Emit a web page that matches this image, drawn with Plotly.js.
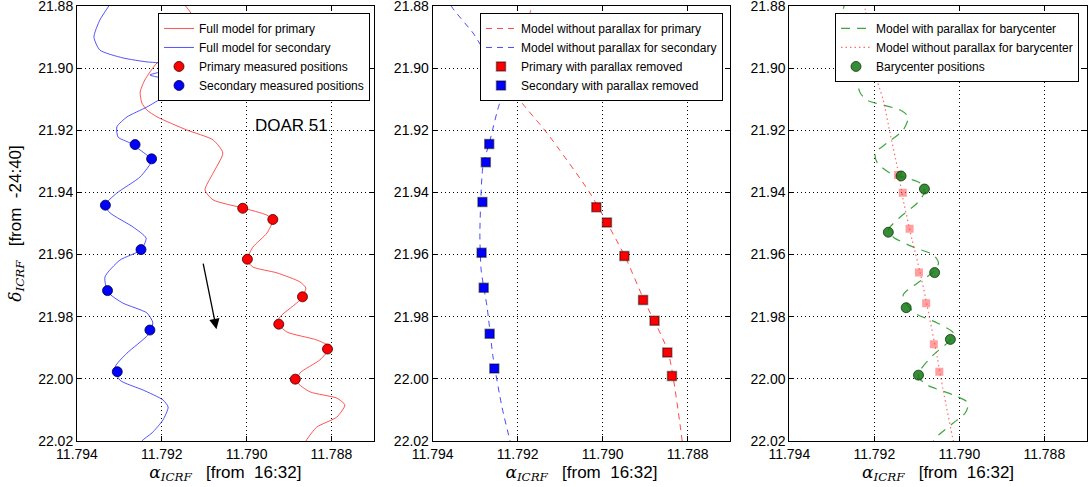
<!DOCTYPE html>
<html><head><meta charset="utf-8">
<script src="https://cdn.plot.ly/plotly-3.0.1.min.js"></script>
<style>html,body{margin:0;padding:0;background:#fff}#chart{width:1090px;height:487px}</style>
</head><body><div id="chart"></div>
<script>
// ---------- Panel 1: full model and measured positions ----------
const p1PrimaryModelRA = [11.79157, 11.79133, 11.79119, 11.79129, 11.79169, 11.79211, 11.7924, 11.79251, 11.79247, 11.79235, 11.79211, 11.79141, 11.79079, 11.79056, 11.79079, 11.79098, 11.79079, 11.79009, 11.78952, 11.78938, 11.78952, 11.78985, 11.78999, 11.78985, 11.78928, 11.78874, 11.7886, 11.78874, 11.78917, 11.78928, 11.78905, 11.78834, 11.78803, 11.78827, 11.78874, 11.78881, 11.7885, 11.78787, 11.78768, 11.78787, 11.78834, 11.7886, 11.78869];
const p1PrimaryModelDec = [21.878, 21.8819, 21.8861, 21.8909, 21.8948, 21.8983, 21.9038, 21.9077, 21.9112, 21.9135, 21.9157, 21.9199, 21.9231, 21.9273, 21.9338, 21.9392, 21.9424, 21.945, 21.9473, 21.9489, 21.9531, 21.9576, 21.9618, 21.964, 21.9659, 21.9688, 21.9708, 21.9746, 21.9795, 21.9817, 21.9849, 21.9875, 21.9898, 21.9939, 21.9981, 22.001, 22.0042, 22.0062, 22.0084, 22.0123, 22.0155, 22.02, 22.0229];
const p1SecondaryModelRA = [11.79315, 11.79346, 11.7936, 11.79346, 11.79292, 11.79235, 11.79209, 11.79181, 11.79204, 11.79228, 11.79209, 11.79169, 11.79162, 11.79176, 11.79197, 11.79235, 11.79282, 11.79306, 11.79303, 11.79275, 11.79235, 11.79223, 11.79251, 11.79306, 11.79334, 11.79322, 11.79268, 11.79237, 11.79249, 11.79299, 11.79334, 11.79327, 11.79292, 11.79235, 11.79221, 11.79233, 11.79282, 11.7931, 11.79299, 11.79244, 11.79197, 11.79185, 11.79197, 11.79223, 11.79247, 11.79256];
const p1SecondaryModelDec = [21.878, 21.8845, 21.89, 21.8942, 21.8967, 21.898, 21.8983, 21.8996, 21.9012, 21.9022, 21.9029, 21.9038, 21.9048, 21.9061, 21.9093, 21.9125, 21.9157, 21.9189, 21.9222, 21.9241, 21.928, 21.9296, 21.935, 21.9402, 21.9441, 21.9466, 21.9511, 21.9547, 21.9585, 21.9618, 21.9672, 21.9721, 21.9756, 21.9788, 21.982, 21.9859, 21.9917, 21.9962, 22.0004, 22.0036, 22.0068, 22.0091, 22.0132, 22.0174, 22.02, 22.0229];
const p1PrimaryRA = [11.79009, 11.78938, 11.78998, 11.78868, 11.78924, 11.78809, 11.78885];
const p1PrimaryDec = [21.9451, 21.9487, 21.9615, 21.9736, 21.9824, 21.9904, 22.0001];
const p1SecondaryRA = [11.79263, 11.79224, 11.79333, 11.79249, 11.79328, 11.79228, 11.79305];
const p1SecondaryDec = [21.9246, 21.9292, 21.9441, 21.9584, 21.9716, 21.9843, 21.9977];
const arrowTail = [11.79103, 21.9624];
const arrowHead = [11.79071, 21.984];
const labelPos = [11.78894, 21.9183];

// ---------- Panel 2: parallax removed ----------
const p2PrimaryModelRA = [11.79162, 11.79169, 11.79185, 11.79204, 11.79216, 11.79213, 11.79195, 11.79131, 11.7903, 11.78948, 11.78903, 11.78846, 11.78813, 11.78811];
const p2PrimaryModelDec = [21.878, 21.8813, 21.8877, 21.8958, 21.9022, 21.9061, 21.9103, 21.9209, 21.9402, 21.9605, 21.9746, 21.9914, 22.02, 22.0229];
const p2SecondaryModelRA = [11.79366, 11.79355, 11.79305, 11.79277, 11.79249, 11.79225, 11.79218, 11.79242, 11.79265, 11.79282, 11.79289, 11.79286, 11.79272, 11.79258, 11.79237, 11.79218, 11.79213];
const p2SecondaryModelDec = [21.8765, 21.8803, 21.8887, 21.8948, 21.90, 21.9038, 21.9057, 21.9112, 21.9231, 21.9318, 21.9531, 21.965, 21.9769, 21.993, 22.0091, 22.02, 22.0229];
const p2PrimaryRA = [11.79015, 11.7899, 11.78949, 11.78905, 11.78878, 11.78848, 11.78837];
const p2PrimaryDec = [21.9448, 21.9497, 21.9605, 21.9746, 21.9813, 21.9915, 21.9991];
const p2SecondaryRA = [11.79267, 11.79275, 11.79283, 11.79285, 11.7928, 11.79266, 11.79255];
const p2SecondaryDec = [21.9244, 21.9303, 21.9431, 21.9594, 21.9707, 21.9855, 21.9967];

// ---------- Panel 3: barycenter ----------
const p3BaryModelRA = [11.79266, 11.79273, 11.79266, 11.79238, 11.79196, 11.79186, 11.79196, 11.79205, 11.79226, 11.79238, 11.79233, 11.79217, 11.79139, 11.7912, 11.79132, 11.7917, 11.79198, 11.79193, 11.79163, 11.79134, 11.79092, 11.79082, 11.79099, 11.79139, 11.79167, 11.79155, 11.79108, 11.79061, 11.79049, 11.79061, 11.79099, 11.79132, 11.79108, 11.79052, 11.79014, 11.79021, 11.79061, 11.79092, 11.79096, 11.79075, 11.79014, 11.78979, 11.78986, 11.79014, 11.79049, 11.79061, 11.79071];
const p3BaryModelDec = [21.878, 21.8813, 21.8839, 21.8877, 21.8926, 21.8948, 21.898, 21.9006, 21.9029, 21.9054, 21.908, 21.9103, 21.9135, 21.9157, 21.9199, 21.9241, 21.9273, 21.9305, 21.9338, 21.935, 21.937, 21.9399, 21.9434, 21.9479, 21.9521, 21.9544, 21.9576, 21.9601, 21.9627, 21.9656, 21.9692, 21.973, 21.9785, 21.982, 21.9852, 21.9875, 21.9923, 21.9972, 21.9994, 22.002, 22.0052, 22.0078, 22.011, 22.0142, 22.0181, 22.02, 22.0229];
const p3BaryNoPlxRA = [11.79229, 11.79221, 11.79203, 11.79179, 11.79163, 11.79146, 11.79132, 11.79111, 11.79092, 11.79075, 11.79052, 11.79038, 11.79014, 11.79009];
const p3BaryNoPlxDec = [21.8765, 21.8813, 21.8996, 21.9103, 21.9209, 21.9318, 21.9424, 21.9553, 21.9659, 21.9769, 21.993, 22.0036, 22.02, 22.0229];
const p3BaryNoPlxPtsRA = [11.79144, 11.79133, 11.79117, 11.79095, 11.79078, 11.7906, 11.79047];
const p3BaryNoPlxPtsDec = [21.9344, 21.9401, 21.9517, 21.9658, 21.9757, 21.9889, 21.9977];
const p3BaryRA = [11.79137, 11.79082, 11.79167, 11.79058, 11.79125, 11.79021, 11.79096];
const p3BaryDec = [21.9347, 21.9389, 21.9528, 21.9658, 21.9771, 21.9873, 21.9988];

const xTickVals = [11.794, 11.792, 11.790, 11.788];
const xTickText = ['11.794', '11.792', '11.790', '11.788'];
const yTickVals = [21.88, 21.90, 21.92, 21.94, 21.96, 21.98, 22.00, 22.02];
const yTickText = ['21.88', '21.90', '21.92', '21.94', '21.96', '21.98', '22.00', '22.02'];

const FONT = 'Liberation Sans, Arial, Helvetica, sans-serif';
const traces = [
  {x: p1PrimaryModelRA, y: p1PrimaryModelDec, xaxis: 'x', yaxis: 'y', mode: 'lines', name: 'Full model for primary', legend: 'legend',
   line: {color: 'rgba(255,40,40,0.8)', width: 1, shape: 'spline', smoothing: 0.6}},
  {x: p1SecondaryModelRA, y: p1SecondaryModelDec, xaxis: 'x', yaxis: 'y', mode: 'lines', name: 'Full model for secondary', legend: 'legend',
   line: {color: 'rgba(40,40,255,0.8)', width: 1, shape: 'spline', smoothing: 0.6}},
  {x: p1PrimaryRA, y: p1PrimaryDec, xaxis: 'x', yaxis: 'y', mode: 'markers', name: 'Primary measured positions', legend: 'legend',
   marker: {symbol: 'circle', size: 10, color: '#ff0000', line: {color: 'rgba(60,0,0,0.8)', width: 1}}},
  {x: p1SecondaryRA, y: p1SecondaryDec, xaxis: 'x', yaxis: 'y', mode: 'markers', name: 'Secondary measured positions', legend: 'legend',
   marker: {symbol: 'circle', size: 10, color: '#0000ff', line: {color: 'rgba(0,0,60,0.8)', width: 1}}},

  {x: p2PrimaryModelRA, y: p2PrimaryModelDec, xaxis: 'x2', yaxis: 'y2', mode: 'lines', name: 'Model without parallax for primary', legend: 'legend2',
   line: {color: 'rgba(255,40,40,0.85)', width: 1, dash: '6px,5px', shape: 'spline', smoothing: 0.6}},
  {x: p2SecondaryModelRA, y: p2SecondaryModelDec, xaxis: 'x2', yaxis: 'y2', mode: 'lines', name: 'Model without parallax for secondary', legend: 'legend2',
   line: {color: 'rgba(40,40,255,0.85)', width: 1, dash: '6px,5px', shape: 'spline', smoothing: 0.6}},
  {x: p2PrimaryRA, y: p2PrimaryDec, xaxis: 'x2', yaxis: 'y2', mode: 'markers', name: 'Primary with parallax removed', legend: 'legend2',
   marker: {symbol: 'square', size: 9, color: '#ff0000', line: {color: 'rgba(0,0,0,0.45)', width: 1.5}}},
  {x: p2SecondaryRA, y: p2SecondaryDec, xaxis: 'x2', yaxis: 'y2', mode: 'markers', name: 'Secondary with parallax removed', legend: 'legend2',
   marker: {symbol: 'square', size: 9, color: '#0000ff', line: {color: 'rgba(0,0,0,0.45)', width: 1.5}}},

  {x: p3BaryModelRA, y: p3BaryModelDec, xaxis: 'x3', yaxis: 'y3', mode: 'lines', name: 'Model with parallax for barycenter', legend: 'legend3',
   line: {color: 'rgba(30,150,30,0.85)', width: 1.2, dash: '9px,7px', shape: 'spline', smoothing: 0.7}},
  {x: p3BaryNoPlxRA, y: p3BaryNoPlxDec, xaxis: 'x3', yaxis: 'y3', mode: 'lines', name: 'Model without parallax for barycenter', legend: 'legend3',
   line: {color: 'rgba(255,60,60,0.75)', width: 1.2, dash: '1.5px,3px', shape: 'spline', smoothing: 0.7}},
  {x: p3BaryNoPlxPtsRA, y: p3BaryNoPlxPtsDec, xaxis: 'x3', yaxis: 'y3', mode: 'markers', showlegend: false, name: 'no plx',
   marker: {symbol: 'square', size: 8, color: 'rgba(255,80,80,0.55)', line: {width: 0}}},
  {x: p3BaryRA, y: p3BaryDec, xaxis: 'x3', yaxis: 'y3', mode: 'markers', name: 'Barycenter positions', legend: 'legend3',
   marker: {symbol: 'circle', size: 10, color: 'rgba(20,120,20,0.85)', line: {color: 'rgba(0,40,0,0.7)', width: 1}}}
];

function xAxis(dom, anchor) {
  return {domain: dom, anchor: anchor, range: [11.794000001, 11.787], tickvals: xTickVals, ticktext: xTickText,
    showline: true, linecolor: 'black', linewidth: 1, mirror: 'ticks', ticks: 'inside', ticklen: 5, tickcolor: 'black',
    showgrid: true, gridcolor: 'black', gridwidth: 1, griddash: '1px,3px', zeroline: false, ticklabeloverflow: 'allow',
    tickfont: {family: FONT, size: 14, color: 'black'},
    title: {text: '<span style="font-family:DejaVu Serif;font-style:italic">α</span><sub><span style="font-family:DejaVu Serif;font-style:italic">ICRF</span></sub>&nbsp;&nbsp;&nbsp;[from&nbsp;&nbsp;16:32]',
      font: {family: FONT, size: 17, color: 'black'}, standoff: 4}};
}
function yAxis(anchor, withTitle) {
  const a = {domain: [0, 1], anchor: anchor, range: [22.020001, 21.879999], tickvals: yTickVals, ticktext: yTickText,
    showline: true, linecolor: 'black', linewidth: 1, mirror: 'ticks', ticks: 'inside', ticklen: 5, tickcolor: 'black',
    showgrid: true, gridcolor: 'black', gridwidth: 1, griddash: '1px,3px', zeroline: false, ticklabeloverflow: 'allow',
    tickfont: {family: FONT, size: 14, color: 'black'}};
  if (withTitle) a.title = {text: '<span style="font-family:DejaVu Serif;font-style:italic">δ</span><sub><span style="font-family:DejaVu Serif;font-style:italic">ICRF</span></sub>&nbsp;&nbsp;&nbsp;[from&nbsp;&nbsp;-24:40]',
    font: {family: FONT, size: 17, color: 'black'}, standoff: 12};
  return a;
}
const legendBase = {bgcolor: 'white', bordercolor: 'black', borderwidth: 1, font: {family: FONT, size: 12, color: 'black'},
  xanchor: 'right', yanchor: 'top', tracegroupgap: 0, itemwidth: 30};

const layout = {
  width: 1090, height: 487,
  margin: {l: 0, r: 0, t: 6, b: 46},
  paper_bgcolor: 'white', plot_bgcolor: 'white',
  font: {family: FONT, color: 'black'},
  xaxis: xAxis([77/1090, 373.7/1090], 'y'),
  yaxis: yAxis('x', true),
  xaxis2: xAxis([432.7/1090, 730.2/1090], 'y2'),
  yaxis2: yAxis('x2', false),
  xaxis3: xAxis([789.3/1090, 1086.8/1090], 'y3'),
  yaxis3: yAxis('x3', false),
  legend: Object.assign({}, legendBase, {x: 370/1090, y: 0.984}),
  legend2: Object.assign({}, legendBase, {x: 723/1090, y: 0.984}),
  legend3: Object.assign({}, legendBase, {x: 1079/1090, y: 0.984}),
  annotations: [
    {xref: 'x', yref: 'y', x: labelPos[0], y: labelPos[1], text: 'DOAR 51', showarrow: false,
     font: {family: FONT, size: 17, color: 'black'}},
    {xref: 'x', yref: 'y', axref: 'x', ayref: 'y', x: arrowHead[0], y: arrowHead[1], ax: arrowTail[0], ay: arrowTail[1],
     text: '', showarrow: true, arrowhead: 2, arrowsize: 1.6, arrowwidth: 1.3, arrowcolor: 'black', standoff: 0}
  ],
  showlegend: true
};
Plotly.newPlot('chart', traces, layout, {displayModeBar: false, staticPlot: true});
</script></body></html>
